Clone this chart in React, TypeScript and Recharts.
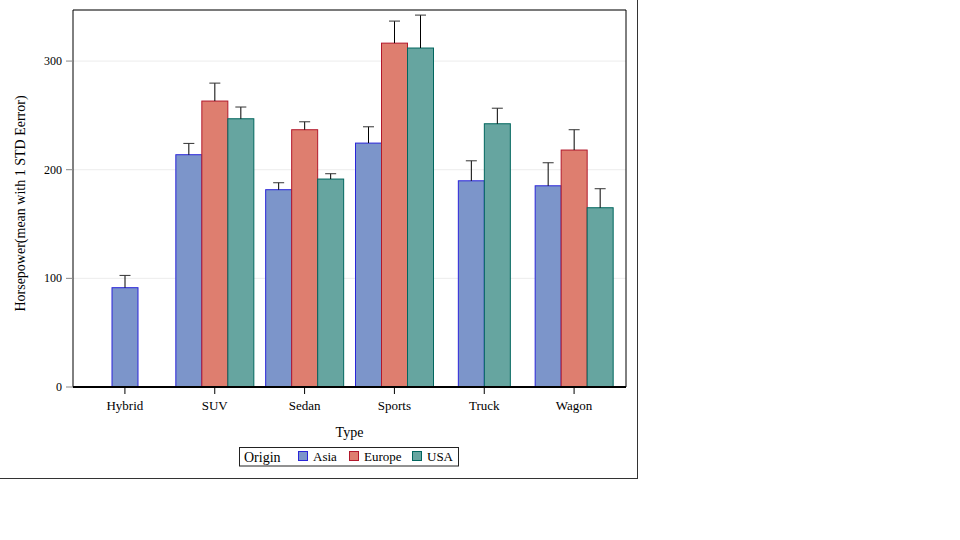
import React from 'react';
import { BarChart, Bar, XAxis, YAxis, CartesianGrid, Legend } from 'recharts';

const categories = ['Hybrid', 'SUV', 'Sedan', 'Sports', 'Truck', 'Wagon'];
const asiaMean = [91.4, 213.8, 181.6, 224.5, 189.8, 185.2];
const europeMean = [null, 263.2, 236.8, 316.5, null, 218.1];
const usaMean = [null, 246.9, 191.4, 312.0, 242.3, 165.0];
const asiaStdErr = [11.3, 10.4, 6.4, 15.0, 18.4, 21.2];
const europeStdErr = [null, 16.5, 7.3, 20.3, null, 18.7];
const usaStdErr = [null, 10.8, 4.9, 30.3, 14.3, 17.5];
const yTicks = [0, 100, 200, 300];
const yMax = 347;
const seriesNames = ['Asia', 'Europe', 'USA'];

const SERIES = [
  { key: 'Asia', fill: '#7C95CA', stroke: '#2A25D9' },
  { key: 'Europe', fill: '#DE7E6F', stroke: '#B2182B' },
  { key: 'USA', fill: '#66A5A0', stroke: '#01665E' },
];

const data = categories.map((type, i) => ({
  type,
  Asia: asiaMean[i],
  AsiaErr: asiaStdErr[i],
  Europe: europeMean[i],
  EuropeErr: europeStdErr[i],
  USA: usaMean[i],
  USAErr: usaStdErr[i],
}));

const FONT = '"Liberation Serif", "Times New Roman", serif';

const makeShape = (seriesIdx: number) => (props: any) => {
  const s = SERIES[seriesIdx];
  const { x, y, width, height, payload } = props;
  const v = payload ? payload[s.key] : null;
  if (v == null || !height || !isFinite(height)) return <g />;
  const present = SERIES.filter((t) => payload[t.key] != null);
  const k = present.findIndex((t) => t.key === s.key);
  const center = x + (SERIES.length / 2 - seriesIdx) * width;
  const nx = center - (present.length * width) / 2 + k * width;
  const ppu = height / v;
  const err = payload[s.key + 'Err'] || 0;
  const top = y - err * ppu;
  const cx = nx + width / 2;
  return (
    <g>
      <rect x={nx} y={y} width={width} height={height} fill={s.fill} stroke={s.stroke} strokeWidth={1} />
      <line x1={cx} x2={cx} y1={y} y2={top} stroke="#000" strokeWidth={1} />
      <line x1={cx - 5.5} x2={cx + 5.5} y1={top} y2={top} stroke="#333" strokeWidth={1} />
    </g>
  );
};

const XTick = (props: any) => {
  const { x, y, payload } = props;
  return (
    <text x={x} y={y + 14} textAnchor="middle" fontSize={13} fontFamily={FONT} fill="#000">
      {payload.value}
    </text>
  );
};

const YTick = (props: any) => {
  const { x, y, payload } = props;
  return (
    <text x={x - 2} y={y + 4} textAnchor="end" fontSize={12} fontFamily={FONT} fill="#000">
      {payload.value}
    </text>
  );
};

const YLabel = (props: any) => {
  const vb = props.viewBox || { x: 0, y: 10, width: 73, height: 377 };
  const cx = 20;
  const cy = vb.y + vb.height / 2 + 5;
  return (
    <text
      x={cx}
      y={cy}
      transform={`rotate(-90 ${cx} ${cy})`}
      textAnchor="middle"
      dominantBaseline="central"
      fontSize={14}
      fontFamily={FONT}
      fill="#000"
    >
      Horsepower(mean with 1 STD Eerror)
    </text>
  );
};

const XLabel = (props: any) => {
  const vb = props.viewBox || { x: 73, y: 387, width: 553, height: 60 };
  return (
    <text x={vb.x + vb.width / 2} y={vb.y + 50} textAnchor="middle" fontSize={14} fontFamily={FONT} fill="#000">
      Type
    </text>
  );
};

const LegendBox = () => {
  const itemX = [59, 110, 173];
  return (
    <svg width={220} height={20} style={{ display: 'block', overflow: 'visible' }}>
      <rect x={0.5} y={0.5} width={219} height={18.5} fill="#fff" stroke="#222" strokeWidth={1} />
      <text x={5} y={14.5} fontSize={14} fontFamily={FONT} fill="#000">Origin</text>
      {SERIES.map((s, i) => (
        <g key={s.key}>
          <rect x={itemX[i] + 0.5} y={4.5} width={9} height={9} fill={s.fill} stroke={s.stroke} strokeWidth={1} />
          <text x={itemX[i] + 15} y={14} fontSize={13} fontFamily={FONT} fill="#000">{seriesNames[i]}</text>
        </g>
      ))}
    </svg>
  );
};

export default function App() {
  return (
    <div style={{ position: 'absolute', left: 0, top: 0, width: 960, height: 540, background: '#fff' }}>
      <div
        style={{
          position: 'absolute',
          left: 0,
          top: 0,
          width: 637,
          height: 478,
          borderRight: '1px solid #333',
          borderBottom: '1px solid #333',
        }}
      />
      <div style={{ position: 'absolute', left: 0, top: 0 }}>
        <BarChart
          width={640}
          height={480}
          data={data}
          margin={{ top: 9, right: 13, bottom: 33, left: 0 }}
          barGap={0}
          barSize={26}
        >
          <CartesianGrid vertical={false} stroke="#ececec" />
          <XAxis
            dataKey="type"
            padding={{ left: 7, right: 7 }}
            height={60}
            tickSize={7}
            tickLine={{ stroke: '#000' }}
            axisLine={{ stroke: '#000', strokeWidth: 2 }}
            tick={<XTick />}
            interval={0}
            label={<XLabel />}
          />
          <XAxis
            xAxisId="top"
            dataKey="type"
            orientation="top"
            padding={{ left: 7, right: 7 }}
            height={1}
            tick={false}
            tickLine={false}
            axisLine={{ stroke: '#000' }}
          />
          <YAxis
            domain={[0, yMax]}
            ticks={yTicks}
            width={73}
            tickSize={7}
            tickLine={{ stroke: '#888' }}
            axisLine={{ stroke: '#000' }}
            tick={<YTick />}
            label={<YLabel />}
          />
          <YAxis
            yAxisId="right"
            orientation="right"
            domain={[0, yMax]}
            width={1}
            tick={false}
            tickLine={false}
            axisLine={{ stroke: '#000' }}
          />
          {SERIES.map((s, i) => (
            <Bar key={s.key} dataKey={s.key} fill={s.fill} stroke={s.stroke} isAnimationActive={false} shape={makeShape(i)} />
          ))}
          <Legend
            layout="horizontal"
            verticalAlign="middle"
            align="center"
            wrapperStyle={{ position: 'absolute', left: 239, top: 447, width: 220, height: 20 }}
            content={<LegendBox />}
          />
        </BarChart>
      </div>
    </div>
  );
}
